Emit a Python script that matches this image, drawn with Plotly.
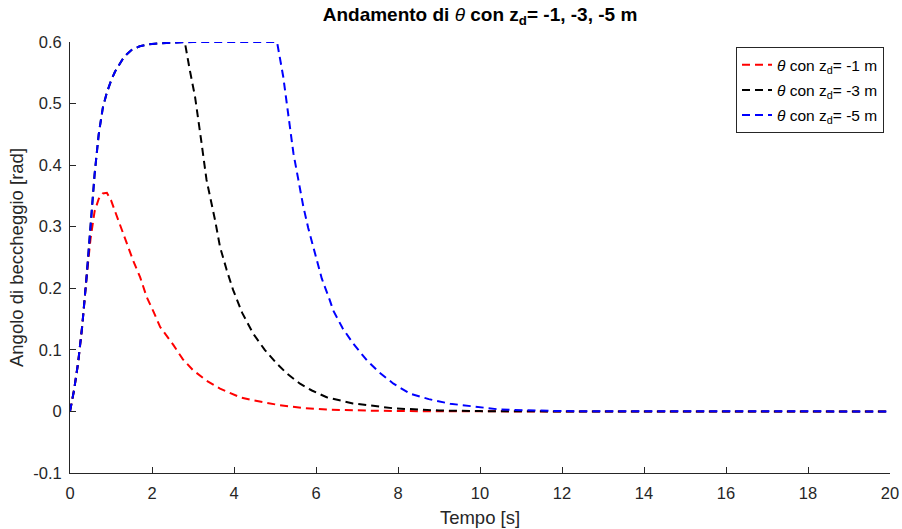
import plotly.graph_objects as go

# ---- data ----
t_red = [0, 0.1, 0.2, 0.3, 0.4, 0.5, 0.6, 0.7, 0.8, 0.9, 1.0, 1.1, 1.22, 1.38, 1.54, 1.71, 1.87, 2.05,
         2.2, 2.52, 2.75, 3.0, 3.33, 3.66, 4.15, 4.47, 5.12, 5.7, 6.26, 7.5, 9.0, 12.0, 20.0]
y_red = [0, 0.035, 0.08, 0.14, 0.215, 0.28, 0.325, 0.345, 0.354, 0.355, 0.343, 0.325, 0.305, 0.275,
         0.245, 0.218, 0.186, 0.16, 0.137, 0.108, 0.085, 0.067, 0.05, 0.037, 0.023, 0.018, 0.01,
         0.0055, 0.003, 0.001, 0.0002, 0.0, 0.0]

t_black = [0, 0.1, 0.2, 0.3, 0.4, 0.5, 0.6, 0.7, 0.8, 0.9, 1.0, 1.1, 1.2, 1.3, 1.4, 1.5, 1.7, 1.9,
           2.2, 2.5, 2.8, 2.92, 3.05, 3.2, 3.33, 3.54, 3.66, 3.82, 3.98, 4.2, 4.47, 4.75, 5.04, 5.3,
           5.61, 5.9, 6.26, 6.9, 7.9, 9.0, 10.0, 12.0, 20.0]
y_black = [0, 0.035, 0.08, 0.14, 0.215, 0.3, 0.385, 0.45, 0.493, 0.518, 0.537, 0.552, 0.564, 0.574,
           0.581, 0.587, 0.593, 0.596, 0.598, 0.599, 0.6, 0.555, 0.511, 0.44, 0.376, 0.31, 0.267,
           0.23, 0.197, 0.16, 0.126, 0.1, 0.078, 0.061, 0.045, 0.034, 0.023, 0.013, 0.005, 0.0015,
           0.0005, 0.0, 0.0]

t_blue = [0, 0.1, 0.2, 0.3, 0.4, 0.5, 0.6, 0.7, 0.8, 0.9, 1.0, 1.1, 1.2, 1.3, 1.4, 1.5, 1.7, 1.9,
          2.2, 2.5, 3.0, 4.0, 5.05, 5.2, 5.32, 5.45, 5.57, 5.69, 5.81, 5.93, 6.14, 6.34, 6.42, 6.65,
          6.91, 7.24, 7.55, 7.89, 8.29, 8.75, 9.27, 10.5, 12.0, 20.0]
y_blue = [0, 0.035, 0.08, 0.14, 0.215, 0.3, 0.385, 0.45, 0.493, 0.518, 0.537, 0.552, 0.564, 0.574,
          0.581, 0.587, 0.593, 0.596, 0.598, 0.599, 0.6, 0.6, 0.6, 0.544, 0.48, 0.419, 0.376, 0.333,
          0.298, 0.267, 0.216, 0.18, 0.164, 0.135, 0.11, 0.083, 0.063, 0.045, 0.029, 0.02, 0.0125,
          0.003, 0.0005, 0.0]

x_ticks = [0, 2, 4, 6, 8, 10, 12, 14, 16, 18, 20]
y_ticks = [-0.1, 0, 0.1, 0.2, 0.3, 0.4, 0.5, 0.6]
y_tick_labels = ["-0.1", "0", "0.1", "0.2", "0.3", "0.4", "0.5", "0.6"]

names = ["<i>θ</i> con z<sub>d</sub>= -1 m", "<i>θ</i> con z<sub>d</sub>= -3 m", "<i>θ</i> con z<sub>d</sub>= -5 m"]
colors = ["#FF0000", "#000000", "#0000FF"]

FONT = "Liberation Sans, Arial, Helvetica, sans-serif"
INK = "#262626"

fig = go.Figure()
for i, (tt, yy, nm, c) in enumerate(zip([t_red, t_black, t_blue], [y_red, y_black, y_blue], names, colors)):
    fig.add_trace(go.Scatter(x=tt, y=yy, mode="lines", name=nm, legendgroup=f"g{i}",
                             line=dict(color=c, width=2, dash="8px,5px")))

fig.update_layout(
    width=902, height=529,
    margin=dict(l=70, r=12, t=42, b=56, autoexpand=False),
    paper_bgcolor="white", plot_bgcolor="white",
    font=dict(family=FONT, color=INK, size=16),
    showlegend=True,
    title=dict(text="<b>Andamento di </b><i>θ</i><b> con z<sub>d</sub>= -1, -3, -5 m</b>",
               x=0.5, xref="paper", xanchor="center", y=0.972, yref="container", yanchor="middle",
               font=dict(family=FONT, size=19, color="#000000")),
    legend=dict(x=0.9927, y=0.988, xanchor="right", yanchor="top",
                bordercolor=INK, borderwidth=1, bgcolor="white",
                font=dict(family=FONT, size=15.5, color="#000000"),
                tracegroupgap=2, itemwidth=30, itemclick=False),
)
fig.update_xaxes(range=[0, 20], tickvals=x_ticks, ticks="inside", ticklen=6, tickcolor=INK,
                 showline=True, linecolor=INK, linewidth=1, showgrid=False, zeroline=False,
                 automargin=False, ticklabelstandoff=5,
                 title=dict(text="Tempo [s]", font=dict(size=18.5, color=INK), standoff=10),
                 tickfont=dict(size=16.5, color=INK))
fig.update_yaxes(range=[-0.1, 0.6], tickvals=y_ticks, ticktext=y_tick_labels, ticks="inside",
                 ticklen=6, tickcolor=INK, showline=True, linecolor=INK, linewidth=1,
                 showgrid=False, zeroline=False, automargin=False, ticklabelstandoff=4,
                 title=dict(text="Angolo di beccheggio [rad]", font=dict(size=18.5, color=INK), standoff=4),
                 tickfont=dict(size=16.5, color=INK))

fig.write_html("out.html", config={"displayModeBar": False},
               post_script="document.body.style.margin='0';")
